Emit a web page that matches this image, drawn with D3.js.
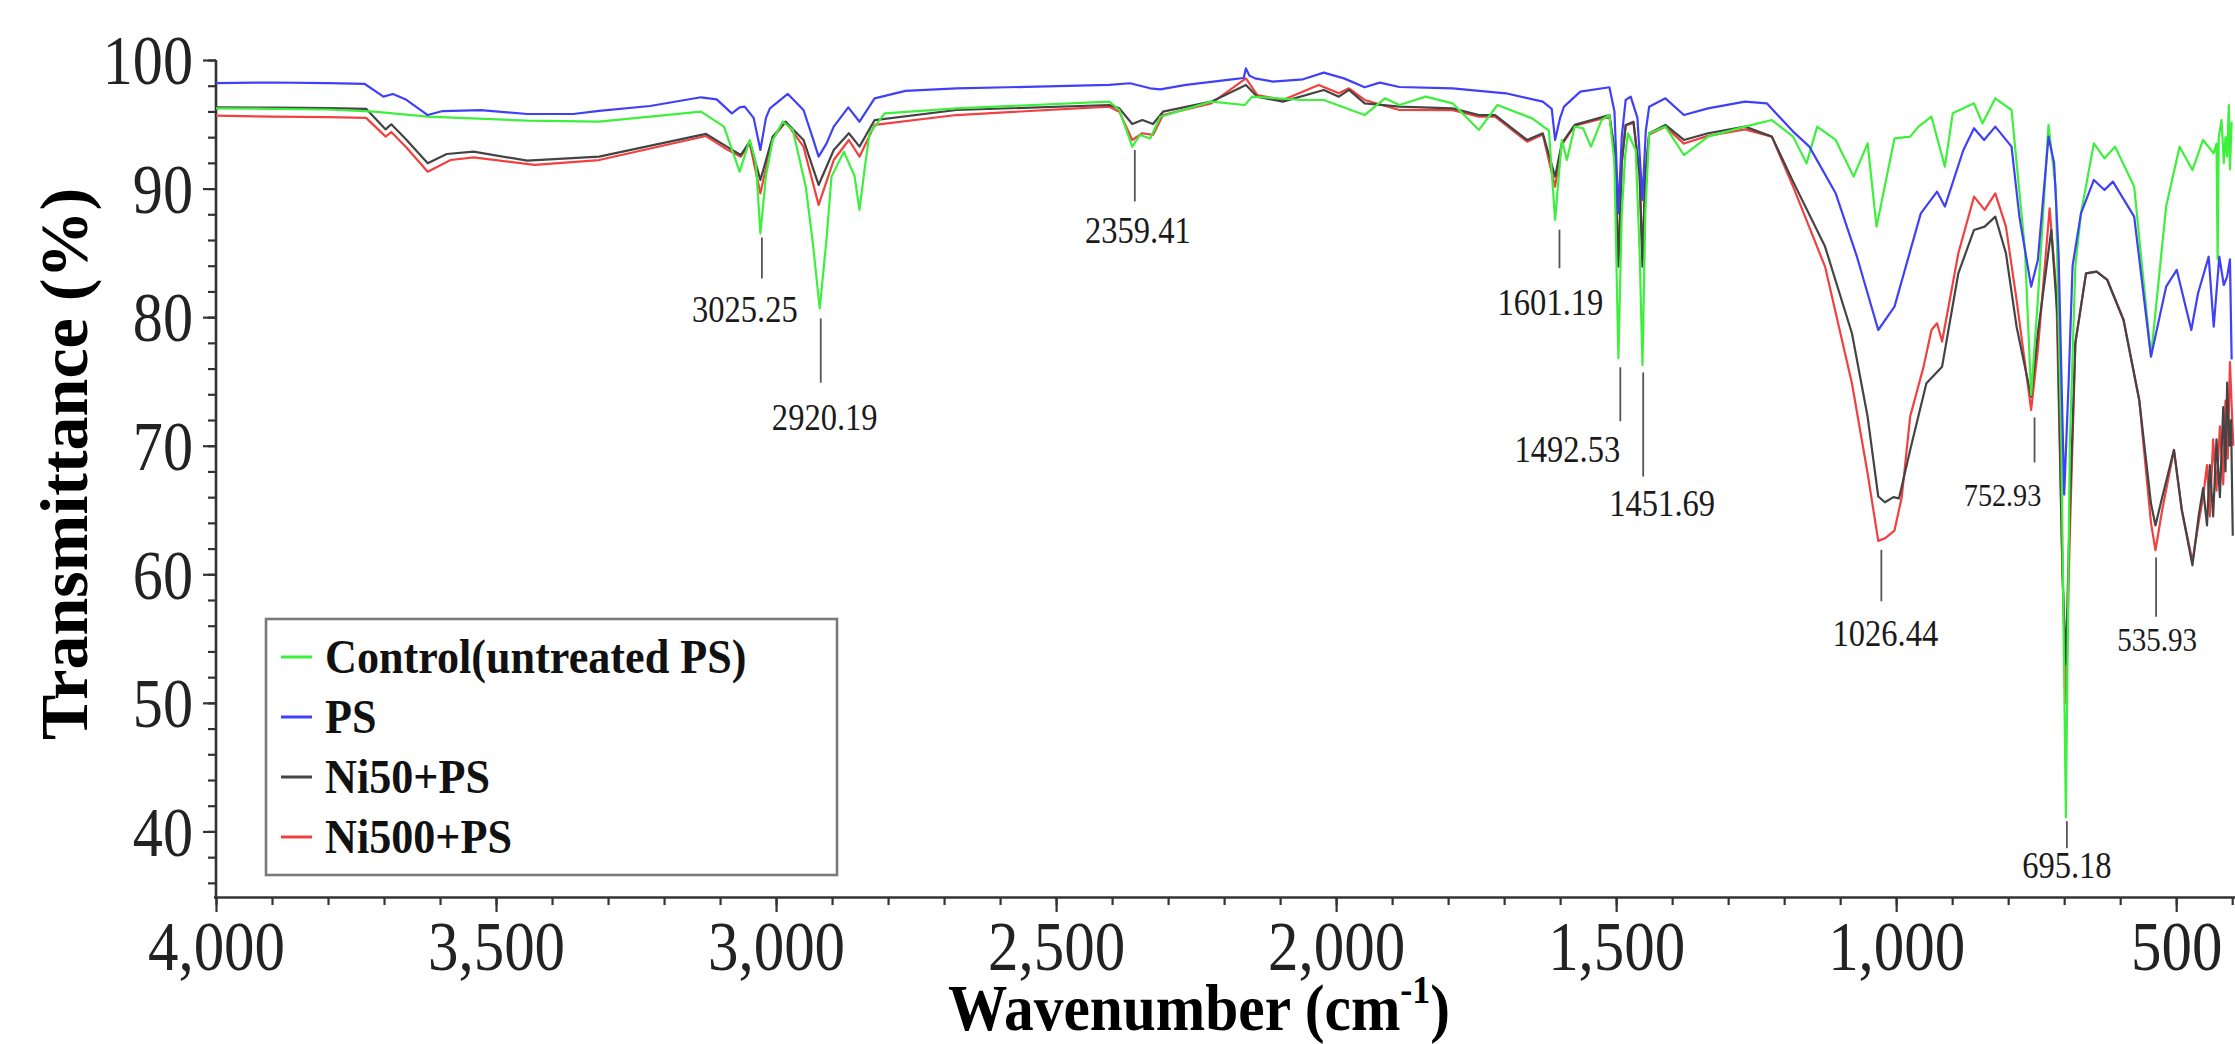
<!DOCTYPE html>
<html>
<head>
<meta charset="utf-8">
<script src="https://cdn.jsdelivr.net/npm/d3@7"></script>
<style>
  html, body { margin: 0; padding: 0; background: #fff; }
  svg text { font-family: "Liberation Serif", "Times New Roman", serif; }
</style>
</head>
<body>
<svg id="chart" width="2235" height="1044"></svg>
<script>
// FTIR spectra, [wavenumber (cm-1), transmittance (%)]

var control = [[4000,96.24],[3900,96.2],[3800,96.15],[3718,95.98],[3622,95.6],[3444,95.28],[3316,95.2],[3134,95.98],[3093,94.82],[3065,91.32],[3047,93.78],[3036,92],[3028,86.52],[3018,91],[3006,93.78],[2988,95.2],[2970,94.56],[2947,90.15],[2935,86],[2922,80.69],[2910,86],[2901,90.93],[2879,92.87],[2860,91],[2851,88.34],[2842,91.5],[2833,94.3],[2806,95.85],[2678,96.24],[2405,96.76],[2387,96.11],[2364,93.26],[2350,94.17],[2332,93.9],[2314,95.59],[2223,96.76],[2163,96.5],[2150,97.15],[2059,96.89],[2022,96.89],[1949,95.72],[1913,97.02],[1887,96.5],[1840,97.15],[1792,96.63],[1745,94.56],[1712,96.5],[1650,95.46],[1620,94.5],[1609,87.56],[1597,93.78],[1588,92.22],[1574,94.82],[1559,94.69],[1545,93.26],[1526,95.33],[1512,95.72],[1503,92],[1496,76.8],[1490,88],[1484,92.5],[1479,94.3],[1465,93],[1458,85],[1453,76.28],[1448,88],[1441,94.3],[1412,94.82],[1379,92.61],[1336,94.04],[1270,94.82],[1222,95.33],[1184,94.04],[1160,91.96],[1141,94.82],[1108,93.78],[1076,90.93],[1051,93.52],[1035,87.04],[1003,93.9],[975,94.04],[960,94.82],[937,95.59],[913,91.7],[899,95.85],[861,96.63],[846,95.07],[823,97.02],[794,96.11],[770,85.23],[759,73.95],[747,81.34],[728,94.95],[715,90],[705,70],[697,41.1],[690,70],[680,84],[670,88.07],[647,93.52],[628,92.35],[609,93.26],[575,90.15],[545,76.93],[518,88.6],[494,93.26],[471,91.44],[452,93.78],[433,92.74],[428,93.5],[426,84.5],[424,94],[419,95.33],[415,92],[412,94],[409,92.48],[406,96.5],[404,91.5],[401,95.2]];

var ps = [[4000,98.2],[3900,98.25],[3800,98.2],[3735,98.15],[3701,97.15],[3684,97.36],[3660,96.9],[3622,95.72],[3595,96.03],[3527,96.1],[3444,95.8],[3362,95.8],[3316,96.05],[3225,96.42],[3134,97.1],[3106,96.94],[3079,95.85],[3065,96.32],[3056,96.37],[3040,95.5],[3028,93.0],[3018,95.5],[3011,96.24],[2979,97.36],[2951,96.11],[2935,94.0],[2924,92.48],[2910,93.5],[2897,94.82],[2871,96.32],[2851,95.2],[2824,97.02],[2769,97.6],[2678,97.8],[2587,97.88],[2405,98.06],[2368,98.19],[2332,97.8],[2314,97.72],[2268,98.06],[2186,98.5],[2165,98.6],[2161,99.35],[2155,98.8],[2145,98.57],[2113,98.32],[2059,98.5],[2022,99.02],[1986,98.57],[1949,97.88],[1922,98.24],[1887,97.9],[1792,97.8],[1697,97.41],[1631,96.76],[1615,96.2],[1609,93.78],[1600,95.5],[1593,96.37],[1564,97.54],[1512,97.88],[1503,96],[1496,88.07],[1490,94],[1483,96.89],[1474,97.15],[1462,95.5],[1453,89.11],[1447,94.5],[1441,96.37],[1412,97.02],[1379,95.72],[1336,96.24],[1270,96.76],[1231,96.63],[1184,94.43],[1155,93.26],[1108,89.63],[1070,84.7],[1032,79.0],[1003,80.82],[956,88.07],[927,89.76],[913,88.6],[880,93.0],[861,94.69],[843,93.78],[823,94.82],[794,93.26],[780,87.82],[759,82.37],[747,84.45],[728,94.04],[718,92],[710,85],[700,66.2],[692,75],[685,84],[670,88.07],[647,90.67],[628,89.89],[613,90.54],[575,87.82],[545,76.93],[518,82.37],[499,83.67],[473,79.0],[461,81.86],[442,84.7],[433,79.26],[423,84.7],[415,82.5],[409,83.15],[404,84.5],[401,76.7]];

var ni50 = [[4000,96.32],[3900,96.3],[3800,96.25],[3732,96.2],[3697,94.6],[3687,95.0],[3660,93.8],[3622,91.97],[3588,92.69],[3540,92.87],[3444,92.17],[3316,92.48],[3125,94.25],[3088,93.26],[3063,92.61],[3047,93.65],[3028,90.67],[3006,94.04],[2983,95.2],[2951,93.78],[2924,90.28],[2897,93.0],[2870,94.3],[2851,93.26],[2824,95.33],[2678,96.11],[2405,96.5],[2387,96.24],[2364,95.02],[2346,95.33],[2327,95.02],[2309,95.98],[2223,96.76],[2161,98.06],[2141,97.15],[2095,96.76],[2022,97.67],[1995,97.15],[1977,97.67],[1949,96.63],[1887,96.37],[1792,96.24],[1745,95.72],[1716,95.72],[1659,93.78],[1631,94.3],[1609,90.93],[1597,93.52],[1574,94.95],[1512,95.72],[1503,93],[1496,83.93],[1490,92],[1483,94.95],[1469,95.2],[1458,91],[1453,83.93],[1448,91],[1441,94.3],[1412,94.95],[1379,93.78],[1336,94.3],[1270,94.82],[1222,94.04],[1184,90.54],[1127,85.49],[1079,78.75],[1051,72.27],[1032,66.05],[1020,65.6],[1005,66.0],[995,65.9],[975,69.67],[946,74.86],[918,76.15],[889,83.41],[861,86.78],[842,87.04],[823,87.82],[804,84.97],[785,79.26],[759,73.82],[747,78.75],[723,86.78],[712,80],[703,60],[697,53],[690,65],[680,78],[661,83.41],[642,83.54],[623,82.89],[594,79.78],[566,73.56],[545,65.5],[537,63.8],[525,66],[504,69.67],[490,65],[471,60.7],[460,64.5],[452,66.7],[445,63.8],[440,68.5],[434,64.5],[428,70.5],[422,66],[416,73],[412,68],[409,74.9],[405,70],[402,72],[399,63]];

var ni500 = [[4000,95.67],[3900,95.6],[3800,95.55],[3732,95.5],[3697,94.04],[3687,94.4],[3660,93.2],[3622,91.31],[3581,92.22],[3540,92.43],[3431,91.84],[3316,92.22],[3125,94.09],[3088,93.05],[3063,92.48],[3047,93.52],[3028,89.63],[3006,93.9],[2983,95.2],[2951,93.26],[2924,88.73],[2897,92.22],[2870,93.78],[2851,92.48],[2824,94.95],[2678,95.72],[2405,96.37],[2387,95.98],[2364,93.78],[2346,94.3],[2327,94.17],[2309,95.72],[2223,96.63],[2161,98.57],[2141,97.28],[2095,96.89],[2031,98.06],[1995,97.41],[1977,97.8],[1949,96.89],[1887,96.11],[1792,96.1],[1745,95.6],[1716,95.6],[1659,93.65],[1631,94.2],[1609,90.15],[1597,93.4],[1574,94.9],[1512,95.6],[1503,93],[1496,84.5],[1490,92],[1483,94.9],[1469,95.1],[1458,91],[1453,84.5],[1448,91],[1441,94.2],[1412,94.8],[1379,93.5],[1336,94.1],[1270,94.6],[1222,94.04],[1184,90.15],[1127,83.93],[1079,74.86],[1051,67.86],[1032,62.6],[1020,62.8],[1003,63.4],[990,66],[975,72.27],[951,76.15],[937,79.0],[927,79.52],[918,78.1],[889,84.97],[861,89.37],[842,88.34],[823,89.63],[804,87.04],[785,81.34],[759,72.78],[747,77.45],[726,88.47],[714,82],[704,62],[697,50],[690,63],[680,78],[661,83.41],[642,83.54],[623,82.89],[594,79.78],[566,73.56],[545,64],[537,61.87],[525,65],[504,69.67],[490,65],[471,61.0],[460,64.0],[452,66.0],[445,68.5],[440,64.5],[434,70.5],[428,66.5],[422,71.5],[416,67],[412,73.5],[408,69],[404,76.5],[400,72],[398,70]];

var seriesNames = ['Control(untreated PS)', 'PS', 'Ni50+PS', 'Ni500+PS'];
var seriesColors = ['#3cf03c', '#4040f8', '#444444', '#f24040'];

var xTicks = [4000, 3500, 3000, 2500, 2000, 1500, 1000, 500];
var yTicks = [40, 50, 60, 70, 80, 90, 100];

// labelled peaks: wavenumber, top / bottom of the leader (in %T), label baseline (in %T)
var peaks = [3025.25, 2920.19, 2359.41, 1601.19, 1492.53, 1451.69, 1026.44, 752.93, 695.18, 535.93];
var peakLeaderTop = [86.2, 79.9, 93.0, 86.8, 76.1, 75.7, 61.9, 72.2, 40.8, 61.3];
var peakLeaderBottom = [83.0, 74.9, 89.0, 83.8, 71.9, 67.6, 57.9, 68.7, 38.7, 56.7];
var peakLabelBase = [79.6, 71.2, 85.8, 80.2, 68.7, 64.5, 54.4, 65.3, 36.4, 54.0];
var peakLabelShift = [-17, 4, 3, -9, -53, 19, 4, -32, 0, 1];
var peakLabelSize = [37, 37, 37, 37, 37, 37, 37, 32, 37, 33];

/*****************************/
// scales and axes

const svg = d3.select('#chart');

const x = d3.scaleLinear().domain([4000, 395]).range([216, 2235]);
const y = d3.scaleLinear().domain([34.9, 100]).range([897, 60]);

const axisColor = '#333';

// minor ticks first, major on top
const minorX = d3.range(4000, 390, -100);
const minorY = d3.range(36, 100.1, 2);

svg.append('g')
  .attr('transform', 'translate(0,897)')
  .call(d3.axisBottom(x).tickValues(minorX).tickSize(8).tickFormat(''))
  .call(g => g.select('.domain').remove());

svg.append('g')
  .attr('transform', 'translate(216,0)')
  .call(d3.axisLeft(y).tickValues(minorY).tickSize(8).tickFormat(''))
  .call(g => g.select('.domain').remove());

const xAxis = svg.append('g')
  .attr('transform', 'translate(0,897)')
  .call(d3.axisBottom(x).tickValues(xTicks).tickSize(15).tickSizeOuter(0).tickFormat(d3.format(',')));

const yAxis = svg.append('g')
  .attr('transform', 'translate(216,0)')
  .call(d3.axisLeft(y).tickValues(yTicks).tickSize(13).tickSizeOuter(0));

xAxis.select('.domain').attr('d', 'M214,0.5H2235');
yAxis.select('.domain').attr('d', 'M0,' + y(100) + 'V' + (897 + 1.5));

svg.selectAll('.tick line').attr('stroke', axisColor).attr('stroke-width', 2.2);
svg.selectAll('.domain').attr('stroke', axisColor).attr('stroke-width', 2.6);

xAxis.selectAll('.tick text')
  .attr('y', 73).attr('dy', 0)
  .attr('transform', 'scale(0.87,1)')
  .attr('fill', '#222')
  .style('font-size', '70px')
  .style('font-family', '"Liberation Serif", serif');

yAxis.selectAll('.tick text')
  .attr('x', -23 / 0.86).attr('dy', '0.34em')
  .attr('transform', 'scale(0.86,1)')
  .attr('fill', '#222')
  .style('font-size', '70px')
  .style('font-family', '"Liberation Serif", serif');

/*****************************/
// spectra

const line = d3.line()
  .x(d => x(d[0]))
  .y(d => y(d[1]));

const allSeries = [control, ps, ni50, ni500];
const drawOrder = [3, 2, 0, 1];

drawOrder.forEach(i => {
  svg.append('path')
    .datum(allSeries[i])
    .attr('fill', 'none')
    .attr('stroke', seriesColors[i])
    .attr('stroke-width', 2.2)
    .attr('stroke-linejoin', 'round')
    .attr('d', line);
});

/*****************************/
// peak labels

peaks.forEach((p, i) => {
  svg.append('line')
    .attr('x1', x(p)).attr('x2', x(p))
    .attr('y1', y(peakLeaderTop[i])).attr('y2', y(peakLeaderBottom[i]))
    .attr('stroke', '#555')
    .attr('stroke-width', 1.8);

  svg.append('text')
    .attr('transform', `translate(${x(p) + peakLabelShift[i]}, ${y(peakLabelBase[i])}) scale(0.88,1)`)
    .attr('text-anchor', 'middle')
    .attr('fill', '#1a1a1a')
    .style('font-size', peakLabelSize[i] + 'px')
    .text(p.toFixed(2));
});

/*****************************/
// legend

const legend = svg.append('g');

legend.append('rect')
  .attr('x', 266).attr('y', 619)
  .attr('width', 571).attr('height', 256)
  .attr('fill', '#fff')
  .attr('stroke', '#7a7a7a')
  .attr('stroke-width', 2.6);

seriesNames.forEach((name, i) => {
  const rowY = 657 + i * 60;
  legend.append('line')
    .attr('x1', 281).attr('x2', 312)
    .attr('y1', rowY).attr('y2', rowY)
    .attr('stroke', seriesColors[i])
    .attr('stroke-width', 3);
  legend.append('text')
    .attr('transform', `translate(325, ${rowY + 16}) scale(0.92,1)`)
    .attr('fill', '#111')
    .style('font-size', '48px')
    .style('font-weight', 'bold')
    .text(name);
});

/*****************************/
// axis titles

const xTitle = svg.append('text')
  .attr('transform', 'translate(1199, 1030) scale(0.9,1)')
  .attr('text-anchor', 'middle')
  .attr('fill', '#000')
  .style('font-size', '66px')
  .style('font-weight', 'bold');
xTitle.append('tspan').text('Wavenumber (cm');
xTitle.append('tspan').attr('dy', -27).style('font-size', '40px').text('-1');
xTitle.append('tspan').attr('dy', 27).text(')');

svg.append('text')
  .attr('transform', 'translate(87, 464) rotate(-90)')
  .attr('text-anchor', 'middle')
  .attr('fill', '#000')
  .style('font-size', '68px')
  .style('font-weight', 'bold')
  .text('Transmittance (%)');
</script>
</body>
</html>
